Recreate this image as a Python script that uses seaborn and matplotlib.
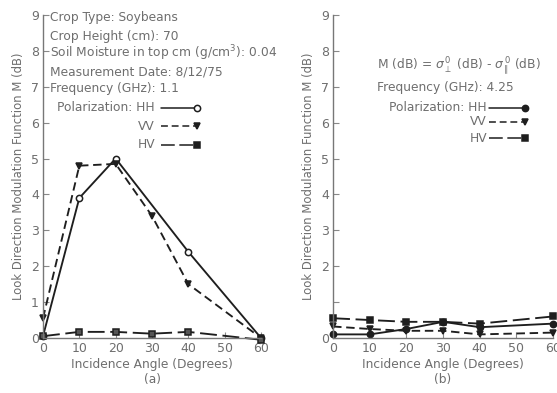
import numpy as np
import pandas as pd
import matplotlib
matplotlib.use("Agg")
import matplotlib.pyplot as plt
import seaborn as sns

# Incidence angles (degrees)
angles = [0, 10, 20, 30, 40, 60]
angles_hh_a = [0, 10, 20, 40, 60]

# Panel (a): 1.1 GHz
hh_a = [0.05, 3.9, 5.0, 2.4, 0.0]
vv_a = [0.55, 4.8, 4.85, 3.4, 1.5, 0.0]
hv_a = [0.05, 0.17, 0.17, 0.12, 0.17, -0.05]

# Panel (b): 4.25 GHz
hh_b = [0.1, 0.1, 0.25, 0.45, 0.3, 0.4]
vv_b = [0.32, 0.25, 0.2, 0.2, 0.1, 0.15]
hv_b = [0.55, 0.5, 0.45, 0.45, 0.4, 0.6]

yticks = list(range(0, 10))
xticks = [0, 10, 20, 30, 40, 50, 60]
ylabel = "Look Direction Modulation Function M (dB)"
xlabel = "Incidence Angle (Degrees)"

sns.set_theme(style="ticks")
plt.rcParams["font.family"] = ["DejaVu Sans"]

TXT = "#6e6e6e"
INK = "#1e1e1e"
FS = 8.8

fig = plt.figure(figsize=(5.57, 3.93), dpi=100)
ax_a = fig.add_axes([0.0772, 0.140, 0.3914, 0.822])
ax_b = fig.add_axes([0.598, 0.140, 0.395, 0.822])

styles = {
    "HH": dict(ls="-", marker="o"),
    "VV": dict(ls=(0, (4.5, 2.5)), marker="v"),
    "HV": dict(ls=(0, (9, 3)), marker="s"),
}


def draw(ax, x, y, key, mfc):
    df = pd.DataFrame({"angle": x, "M": y})
    st = styles[key]
    sns.lineplot(data=df, x="angle", y="M", ax=ax, color=INK, lw=1.35,
                 linestyle=st["ls"], marker=st["marker"], markersize=4.5,
                 markerfacecolor=mfc, markeredgecolor=INK, markeredgewidth=1.1,
                 clip_on=False)


draw(ax_a, angles_hh_a, hh_a, "HH", "white")
draw(ax_a, angles, vv_a, "VV", INK)
draw(ax_a, angles, hv_a, "HV", "#555555")

draw(ax_b, angles, hv_b, "HV", INK)
draw(ax_b, angles, vv_b, "VV", INK)
draw(ax_b, angles, hh_b, "HH", INK)

for ax, tag in [(ax_a, "(a)"), (ax_b, "(b)")]:
    ax.set_xlim(0, 60)
    ax.set_ylim(0, 9)
    ax.set_xticks(xticks)
    ax.set_yticks(yticks)
    ax.set_xticklabels([str(t) for t in xticks])
    ax.set_xlabel(xlabel + "\n" + tag, color=TXT, fontsize=8.8, labelpad=2,
                  linespacing=1.2)
    ax.set_ylabel(ylabel, color=TXT, fontsize=8.4, labelpad=4)
    ax.tick_params(direction="in", length=4, width=0.8, colors="#888888",
                   labelcolor=TXT, labelsize=9, pad=3)
    for s in ["top", "right"]:
        ax.spines[s].set_visible(False)
    for s in ["left", "bottom"]:
        ax.spines[s].set_color("#777777")
        ax.spines[s].set_linewidth(1.0)

ax_b.set_yticklabels(["" if t == 1 else str(t) for t in yticks])


def legend_rows(ax, xt, x0, x1, rows, mfc_hh):
    for key, yy in rows:
        label = "Polarization: HH" if key == "HH" else key
        ax.text(xt, yy, label, transform=ax.transAxes, ha="right", va="center",
                fontsize=FS, color=TXT)
        st = styles[key]
        ax.plot([x0, x1], [yy, yy], transform=ax.transAxes, color=INK, lw=1.1,
                linestyle=st["ls"], clip_on=False)
        mfc = mfc_hh if key == "HH" else INK
        ax.plot([x1], [yy], transform=ax.transAxes, marker=st["marker"],
                markersize=4.5, markerfacecolor=mfc, markeredgecolor=INK,
                markeredgewidth=1.1, ls="none", clip_on=False)


# Panel (a) annotations
info_a = [
    ("Crop Type: Soybeans", 0.991),
    ("Crop Height (cm): 70", 0.932),
    ("Soil Moisture in top cm (g/cm$^3$): 0.04", 0.880),
    ("Measurement Date: 8/12/75", 0.824),
    ("Frequency (GHz): 1.1", 0.771),
]
for s, yy in info_a:
    ax_a.text(0.032, yy, s, transform=ax_a.transAxes, ha="left", va="center",
              fontsize=FS, color=TXT)
legend_rows(ax_a, 0.514, 0.541, 0.706,
            [("HH", 0.712), ("VV", 0.656), ("HV", 0.598)], "white")

# Panel (b) annotations
ax_b.text(0.2, 0.840,
          r"M (dB) = $\sigma^{\,0}_{\perp}$ (dB) - $\sigma^{\,0}_{\parallel}$ (dB)",
          transform=ax_b.transAxes, ha="left", va="center", fontsize=FS,
          color=TXT)
ax_b.text(0.2, 0.774, "Frequency (GHz): 4.25", transform=ax_b.transAxes,
          ha="left", va="center", fontsize=FS, color=TXT)
legend_rows(ax_b, 0.70, 0.71, 0.873,
            [("HH", 0.712), ("VV", 0.669), ("HV", 0.619)], INK)

fig.savefig("out.png", dpi=100)
